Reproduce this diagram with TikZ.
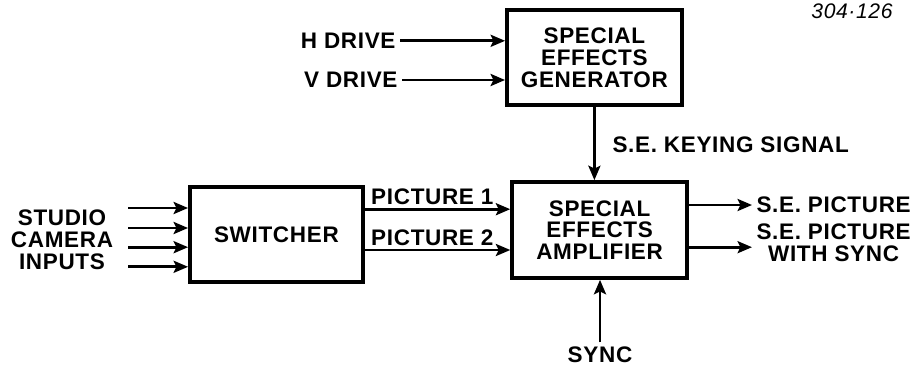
\documentclass[tikz,border=0pt]{standalone}
\usepackage{fontspec}
\usepackage{tikz}
\usetikzlibrary{positioning, arrows.meta, calc}
\newfontfamily\blockfont[LetterSpace=3]{Liberation Sans}
\newcommand{\bfont}{\blockfont\bfseries\fontsize{16}{15.5}\selectfont}

\begin{document}
\begin{tikzpicture}[
  >={Stealth[length=3.6mm, width=3mm, inset=0.7mm]},
  font=\bfont,
  block/.style={
    draw, line width=2.6pt,
    minimum width=4.375cm, minimum height=2.375cm,
    align=center, inner sep=2pt
  },
  arr/.style={->, line width=2pt},
  sig/.style={align=center, inner sep=3pt},
  figno/.style={font=\blockfont\itshape\fontsize{15}{15}\selectfont}
]
\useasboundingbox (0,0) rectangle (22.825,9.2);

% Blocks
\node[block] (seg) at (14.86, 7.76) {SPECIAL\\EFFECTS\\GENERATOR};
\node[block, minimum height=2.4cm] (sea) at (14.99, 3.45) {SPECIAL\\EFFECTS\\AMPLIFIER};
\node[block, minimum width=4.325cm] (sw) at (6.91, 3.33) {SWITCHER};

% Figure number
\node[figno] (num) at (21.3, 8.92) {304·126};

% Drive inputs
\node[sig, anchor=east] (hdrive) at (10.0, 8.18) {H DRIVE};
\node[sig, anchor=east] (vdrive) at (10.05, 7.2) {V DRIVE};
\draw[arr] (hdrive.east) -- (hdrive.east -| seg.west);
\draw[arr] (vdrive.east) -- (vdrive.east -| seg.west);

% Camera inputs
\node[sig] (cams) at (1.55, 3.2) {STUDIO\\CAMERA\\INPUTS};
\foreach \y [count=\i] in {4.0, 3.5, 3.02, 2.53} {
  \coordinate (in\i) at (3.2, \y);
  \draw[arr] (in\i) -- (in\i -| sw.west);
}

% Switcher to amplifier
\coordinate (p1) at (sw.east |- 0, 3.97);
\coordinate (p2) at (sw.east |- 0, 2.95);
\draw[arr] (p1) -- (p1 -| sea.west);
\draw[arr] (p2) -- (p2 -| sea.west);
\node[sig, anchor=south west] (pic1) at ($(p1)+(0.05,0)$) {PICTURE 1};
\node[sig, anchor=south west] (pic2) at ($(p2)+(0.05,0)$) {PICTURE 2};

% Keying signal
\draw[arr] (seg.south) -- (seg.south |- sea.north);
\node[sig, anchor=west] (key) at (15.2, 5.575) {S.E. KEYING SIGNAL};

% Sync
\node[sig] (sync) at (15.0, 0.33) {SYNC};
\draw[arr] (sync) -- (sync |- sea.south);

% Outputs
\node[sig, anchor=west] (out1) at (18.8, 4.075) {S.E. PICTURE};
\node[sig, anchor=west] (out2) at (18.8, 3.14) {S.E. PICTURE\\WITH SYNC};
\draw[arr] (sea.east |- out1) -- (out1.west);
\draw[arr] ($(sea.east |- out2.west)+(0,-0.12)$) -- ($(out2.west)+(0,-0.12)$);

\end{tikzpicture}
\end{document}
